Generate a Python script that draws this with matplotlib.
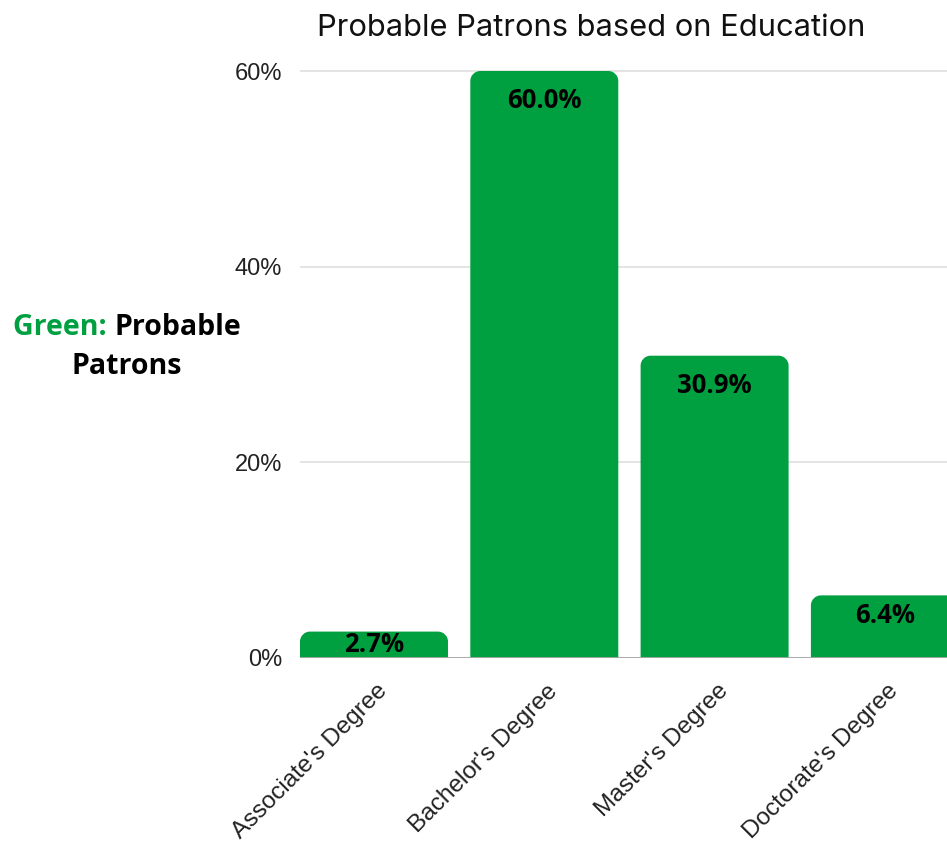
import matplotlib
matplotlib.use("Agg")
import matplotlib.pyplot as plt
from matplotlib.path import Path
from matplotlib.patches import PathPatch
from matplotlib.transforms import ScaledTranslation

# ---- data -------------------------------------------------------------
categories = ["Associate's Degree", "Bachelor's Degree", "Master's Degree", "Doctorate's Degree"]
shares = [2.7, 60.0, 30.9, 6.4]
y_ticks = [0, 20, 40, 60]
y_tick_labels = ["0%", "20%", "40%", "60%"]
title = "Probable Patrons based on Education"

# ---- style ------------------------------------------------------------
GREEN = "#00A040"
W, H = 947, 842
DPI = 100
BOLD_FONT = "Open Sans"
plt.rcParams["font.family"] = ["Liberation Sans", "DejaVu Sans"]

fig = plt.figure(figsize=(W / DPI, H / DPI), dpi=DPI)
fig.patch.set_facecolor("white")

# plot area in pixels (from the top-left corner)
left_px, right_px, base_px = 300, 947, 658
px_per_unit = 587 / 60.0
ymax = 61.0
top_px = base_px - ymax * px_per_unit
ax = fig.add_axes([left_px / W, 1 - base_px / H, (right_px - left_px) / W, (base_px - top_px) / H])

xpos = list(range(len(categories)))
bars = ax.bar(xpos, shares, width=0.869, color=GREEN, zorder=3)
ax.set_xlim(-0.4345, 3.3647)
ax.set_ylim(0, ymax)

for s in ax.spines.values():
    s.set_visible(False)
ax.set_yticks(y_ticks, y_tick_labels)
ax.tick_params(axis="y", length=0, pad=13, labelsize=17, labelcolor="#222222")
ax.yaxis.grid(True, color="#dcdcdc", linewidth=1.1, zorder=0)
ax.set_axisbelow(True)
ax.axhline(0, color="#a8a8a8", linewidth=1.3, zorder=4)

ax.set_xticks(xpos, categories, rotation=45, ha="right", va="center",
              rotation_mode="anchor")
ax.tick_params(axis="x", length=0, pad=0, labelsize=17.6, labelcolor="#222222")
shift = ScaledTranslation(10 / DPI, -30 / DPI, fig.dpi_scale_trans)
for lab in ax.get_xticklabels():
    lab.set_transform(lab.get_transform() + shift)

# ---- bars with rounded top corners -----------------------------------
fig.canvas.draw()
radius_px = 10
x_per_px = (ax.get_xlim()[1] - ax.get_xlim()[0]) / (right_px - left_px)
y_per_px = 1.0 / px_per_unit
k = 0.5523
for b in bars:
    x0, w, h = b.get_x(), b.get_width(), b.get_height()
    rx = radius_px * x_per_px
    ry = min(radius_px * y_per_px, h)
    x1 = x0 + w
    verts = [
        (x0, 0), (x0, h - ry),
        (x0, h - ry + k * ry), (x0 + rx - k * rx, h), (x0 + rx, h),
        (x1 - rx, h),
        (x1 - rx + k * rx, h), (x1, h - ry + k * ry), (x1, h - ry),
        (x1, 0), (x0, 0),
    ]
    codes = [Path.MOVETO, Path.LINETO,
             Path.CURVE4, Path.CURVE4, Path.CURVE4,
             Path.LINETO,
             Path.CURVE4, Path.CURVE4, Path.CURVE4,
             Path.LINETO, Path.CLOSEPOLY]
    ax.add_patch(PathPatch(Path(verts, codes), facecolor=GREEN, edgecolor="none", zorder=3))
    b.set_visible(False)

    # value label inside the bar, near the top (centred on short bars)
    h_px = h * px_per_unit
    off_px = h_px / 2 if h_px < 40 else min(30, h_px * 0.32)
    ax.annotate(f"{h:.1f}%", (x0 + w / 2, h), xytext=(0, -off_px * 72 / DPI),
                textcoords="offset points", ha="center", va="center",
                fontsize=18.5, fontweight="bold", family=BOLD_FONT, color="black", zorder=5)

# ---- title -----------------------------------------------------------
fig.text(591 / W, 1 - 28 / H, title, ha="center", va="center",
         fontsize=22.2, family="Inter", color="#111111")

# ---- side label: "Green: Probable Patrons" ---------------------------
cx = 127 / W
fs_side = 20.5
t_green = fig.text(0, 1 - 327 / H, "Green: ", ha="left", va="center", fontsize=fs_side,
                   fontweight="bold", family=BOLD_FONT, color=GREEN)
t_prob = fig.text(0, 1 - 327 / H, "Probable", ha="left", va="center", fontsize=fs_side,
                  fontweight="bold", family=BOLD_FONT, color="black")
fig.text(cx, 1 - 367 / H, "Patrons", ha="center", va="center", fontsize=fs_side,
         fontweight="bold", family=BOLD_FONT, color="black")
r = fig.canvas.get_renderer()
wg = t_green.get_window_extent(r).width / W
wp = t_prob.get_window_extent(r).width / W
start = cx - (wg + wp) / 2
t_green.set_x(start)
t_prob.set_x(start + wg)

fig.savefig("out.png", dpi=DPI, facecolor="white")
